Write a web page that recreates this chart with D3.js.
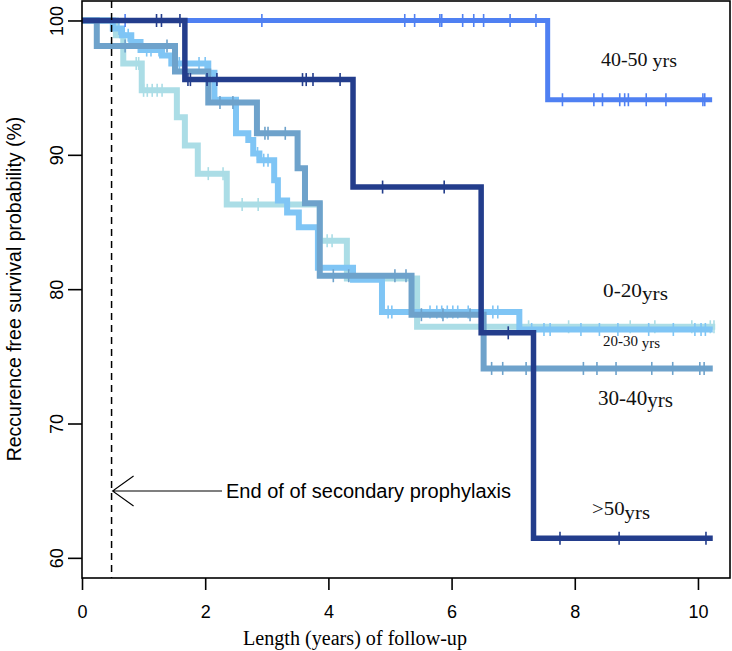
<!DOCTYPE html>
<html><head><meta charset="utf-8">
<script src="https://cdn.jsdelivr.net/npm/d3@7"></script>
<style>body{margin:0;background:#fff}svg{display:block}</style>
</head><body>
<svg id="c" width="732" height="651"></svg>
<script>
// ---- data ----
const groupNames = ["0-20", "20-30", "30-40", "40-50", ">50"];
// 0-20 yrs
const t020 = [0, 0.55, 0.67, 0.97, 1.54, 1.67, 1.88, 2.35, 3.86, 4.30, 5.44];
const s020 = [100, 98.9, 96.8, 94.8, 92.8, 90.7, 88.6, 86.3, 83.6, 80.8, 77.2];
const end020 = 10.28;
const c020 = [0.88, 0.92, 1.0, 1.06, 1.14, 1.22, 1.30, 2.05, 2.29, 2.6, 2.86, 3.98, 4.06, 7.25, 7.9, 8.9, 9.3, 9.9, 10.2, 10.26];
// 20-30 yrs
const t2030 = [0, 0.50, 0.65, 0.80, 0.95, 1.30, 1.45, 2.05, 2.15, 2.50, 2.70, 2.78, 2.88, 3.12, 3.18, 3.33, 3.52, 3.83, 4.40, 4.87, 7.10];
const s2030 = [100, 99.4, 98.9, 98.4, 97.8, 97.4, 96.8, 96.1, 94.1, 91.6, 91.1, 90.1, 89.6, 88.1, 86.6, 85.7, 84.6, 81.6, 80.7, 78.3, 77.0];
const end2030 = 10.24;
const c2030 = [0.6, 0.75, 1.05, 1.12, 1.25, 1.58, 1.65, 1.9, 2.0, 2.85, 2.95, 3.02, 4.97, 5.03, 5.65, 5.76, 5.84, 5.93, 6.02, 6.10, 6.27, 6.67, 6.75, 7.3, 7.5, 7.6, 8.1, 8.4, 8.7, 9.2, 9.6, 9.95, 10.05, 10.12];
// 30-40 yrs
const t3040 = [0, 0.24, 1.51, 2.05, 2.84, 3.50, 3.62, 3.86, 5.35, 6.52];
const s3040 = [100, 98.1, 96.2, 93.9, 91.6, 89.0, 86.4, 81.0, 78.1, 74.1];
const end3040 = 10.24;
const c3040 = [0.70, 1.38, 2.24, 2.45, 2.97, 3.02, 3.30, 4.08, 4.33, 5.08, 5.26, 5.51, 5.86, 6.30, 6.65, 6.83, 7.21, 8.14, 8.36, 8.67, 9.25, 9.59, 10.03, 10.10];
// 40-50 yrs
const t4050 = [0, 7.56];
const s4050 = [100, 94.1];
const end4050 = 10.23;
const c4050 = [0.70, 2.92, 5.24, 5.40, 5.81, 5.84, 6.18, 6.36, 6.52, 6.95, 7.37, 7.80, 8.31, 8.45, 8.73, 8.81, 8.87, 9.16, 9.48, 10.08, 10.11];
// >50 yrs
const t50 = [0, 1.67, 4.40, 6.48, 7.33];
const s50 = [100, 95.6, 87.6, 76.75, 61.45];
const end50 = 10.24;
const c50 = [1.21, 1.29, 1.59, 1.72, 1.76, 2.03, 2.19, 3.58, 3.64, 3.75, 4.19, 4.88, 5.88, 6.92, 7.76, 8.72, 10.13];

const xTicks = [0, 2, 4, 6, 8, 10];
const yTicks = [60, 70, 80, 90, 100];
const prophylaxisEnd = 0.48;

// ---- drawing ----
const svg = d3.select("#c");
const L = 82, R = 730, T = 1, B = 578;
const x = d3.scaleLinear().domain([0, 10.52]).range([L, R]);
const y = d3.scaleLinear().domain([58.5, 101.45]).range([B, T]);

const series = [
  {t: t020, s: s020, end: end020, c: c020, color: "#abdde6", w: 6},
  {t: t2030, s: s2030, end: end2030, c: c2030, color: "#7fc5f5", w: 6},
  {t: t3040, s: s3040, end: end3040, c: c3040, color: "#6ea2cb", w: 6},
  {t: t4050, s: s4050, end: end4050, c: c4050, color: "#4f80f2", w: 5},
  {t: t50, s: s50, end: end50, c: c50, color: "#233d8c", w: 5.5}
];

const line = d3.line().x(d => x(d[0])).y(d => y(d[1])).curve(d3.curveStepAfter);

series.forEach(g => {
  const pts = g.t.map((t, i) => [t, g.s[i]]);
  pts.push([g.end, g.s[g.s.length - 1]]);
  svg.append("path").attr("d", line(pts)).attr("fill", "none")
    .attr("stroke", g.color).attr("stroke-width", g.w)
    .attr("stroke-linejoin", "miter").attr("stroke-linecap", "butt");
  const valAt = t => { let v = g.s[0]; g.t.forEach((tt, i) => { if (tt <= t) v = g.s[i]; }); return v; };
  svg.append("g").selectAll("line").data(g.c).join("line")
    .attr("x1", d => x(d)).attr("x2", d => x(d))
    .attr("y1", d => y(valAt(d)) - 6.5).attr("y2", d => y(valAt(d)) + 6.5)
    .attr("stroke", g.color).attr("stroke-width", 1.6);
});

// dashed line
svg.append("line").attr("x1", x(prophylaxisEnd)).attr("x2", x(prophylaxisEnd))
  .attr("y1", T).attr("y2", B).attr("stroke", "#000").attr("stroke-width", 1.5)
  .attr("stroke-dasharray", "7,5");

// arrow + annotation
const ay = 491, ax = x(prophylaxisEnd) + 1;
svg.append("path").attr("d", `M${ax},${ay}L222,${ay}M${ax + 21},${ay - 15}L${ax},${ay}L${ax + 21},${ay + 15}`)
  .attr("fill", "none").attr("stroke", "#000").attr("stroke-width", 1.1);
svg.append("text").attr("x", 226).attr("y", 498).text("End of of secondary prophylaxis")
  .attr("font-family", "Liberation Sans, Arial, sans-serif").attr("font-size", 20)
  .attr("textLength", 285).attr("lengthAdjust", "spacingAndGlyphs");

// box
svg.append("rect").attr("x", L).attr("y", T).attr("width", R - L).attr("height", B - T)
  .attr("fill", "none").attr("stroke", "#000").attr("stroke-width", 1.6);

// axes
const gx = svg.append("g").attr("transform", `translate(0,${B})`)
  .call(d3.axisBottom(x).tickValues(xTicks).tickSize(12).tickPadding(15).tickFormat(d3.format("d")));
gx.select(".domain").remove();
gx.selectAll("line").attr("stroke-width", 1.6);
gx.selectAll("text").attr("font-family", "Liberation Sans, Arial, sans-serif").attr("font-size", 18).attr("fill", "#000");

const gy = svg.append("g").attr("transform", `translate(${L},0)`)
  .call(d3.axisLeft(y).tickValues(yTicks).tickSize(14).tickFormat(d3.format("d")));
gy.select(".domain").remove();
gy.selectAll("line").attr("stroke-width", 1.6);
gy.selectAll("text").attr("x", null).attr("dy", null).attr("text-anchor", "middle")
  .attr("transform", "translate(-19,0) rotate(-90)")
  .attr("font-family", "Liberation Sans, Arial, sans-serif").attr("font-size", 18).attr("fill", "#000");

// axis titles
svg.append("text").attr("transform", "translate(21,289) rotate(-90)").attr("text-anchor", "middle")
  .attr("font-family", "Liberation Sans, Arial, sans-serif").attr("font-size", 19.5)
  .text("Reccurence free survival probability (%)");
svg.append("text").attr("x", 355).attr("y", 645).attr("text-anchor", "middle")
  .attr("font-family", "Liberation Serif, serif").attr("font-size", 20)
  .attr("textLength", 224).attr("lengthAdjust", "spacingAndGlyphs")
  .text("Length (years) of follow-up");

// group labels
const labs = [
  {main: "40-50", sfx: " yrs", x: 601, y: 66, fs: 19, dy: 1, w: 76},
  {main: "0-20", sfx: "yrs", x: 603, y: 297, fs: 19, dy: 3, w: 65},
  {main: "20-30", sfx: " yrs", x: 603, y: 346, fs: 15, dy: 2, w: 57},
  {main: "30-40", sfx: "yrs", x: 598, y: 405, fs: 20, dy: 2, w: 75},
  {main: ">50", sfx: "yrs", x: 592, y: 515, fs: 19, dy: 4, w: 58}
];
labs.forEach((l, i) => {
  const t = svg.append("text").attr("x", l.x).attr("y", l.y)
    .attr("font-family", "Liberation Serif, serif").attr("font-size", l.fs).attr("fill", "#111")
    .attr("textLength", l.w).attr("lengthAdjust", "spacingAndGlyphs");
  t.append("tspan").text(l.main);
  t.append("tspan").attr("dy", l.dy).text(l.sfx);
});
</script>
</body></html>
